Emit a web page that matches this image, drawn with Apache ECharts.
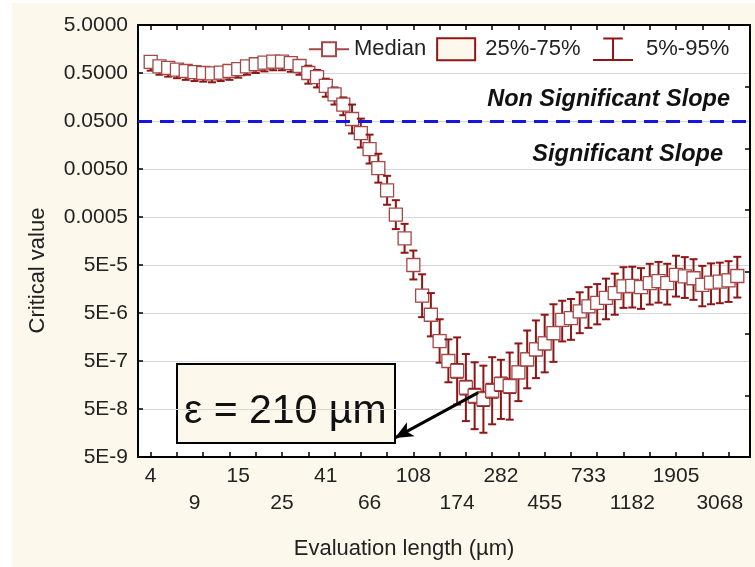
<!DOCTYPE html>
<html><head><meta charset="utf-8">
<script src="https://cdn.jsdelivr.net/npm/echarts@6/dist/echarts.min.js"></script>
<style>html,body{margin:0;padding:0;background:#fff}#c{width:755px;height:567px}</style>
</head><body><div id="c"></div>
<script>
// x axis: one category per evaluation length; labels every 5th category (two staggered rows), ticks every 3rd
const xTickLabels = ['4','9','15','25','41','66','108','174','282','455','733','1182','1905','3068'];
const labelEvery = 5;
const tickEvery = 3;
// y axis decades (5 x 10^n)
const yTickLabels = ['5E-9','5E-8','5E-7','5E-6','5E-5','0.0005','0.0050','0.0500','0.5000','5.0000'];
const yMin = 5e-9, yMax = 5;
const threshold = 0.05;

const median = [0.85,0.69,0.64,0.59,0.55,0.52,0.50,0.49,0.51,0.55,0.60,0.69,0.76,0.82,0.86,0.86,0.80,0.70,
  0.50,0.41,0.27,0.18,0.11,
  0.055,0.028,0.013,0.0052,0.0018,5.6e-4,1.8e-4,5.0e-5,
  1.15e-5,4.6e-6,1.3e-6,5.0e-7,
  3.1e-7,1.4e-7,9.4e-8,8.0e-8,1.2e-7,1.65e-7,1.5e-7,
  2.9e-7,5.4e-7,8.7e-7,1.16e-6,1.9e-6,
  3.6e-6,3.9e-6,5.4e-6,6.9e-6,8.1e-6,1.03e-5,1.3e-5,1.8e-5,1.84e-5,1.73e-5,2.1e-5,2.3e-5,2.1e-5,3.1e-5,2.9e-5,2.65e-5,1.93e-5,2.15e-5,2.25e-5,2.4e-5,2.95e-5];
const p5 = [0.56,0.46,0.42,0.39,0.36,0.34,0.33,0.32,0.34,0.36,0.40,0.46,0.50,0.54,0.57,0.57,0.53,0.46,
  0.30,0.25,0.16,0.11,0.066,
  0.0275,0.014,0.0065,0.0026,9e-4,2.8e-4,9e-5,2.5e-5,
  4.1e-6,1.63e-6,4.6e-7,1.8e-7,
  6.2e-8,2.8e-8,1.9e-8,1.6e-8,2.4e-8,3.1e-8,3.0e-8,
  7.3e-8,1.35e-7,2.2e-7,2.9e-7,4.8e-7,
  1.28e-6,1.38e-6,1.9e-6,2.45e-6,2.9e-6,3.7e-6,4.6e-6,6.4e-6,6.5e-6,6.1e-6,7.5e-6,8.2e-6,7.5e-6,1.1e-5,1.03e-5,9.4e-6,6.9e-6,7.6e-6,8.0e-6,8.5e-6,1.05e-5];
const p25 = [0.74,0.60,0.56,0.51,0.48,0.45,0.435,0.43,0.44,0.48,0.52,0.60,0.66,0.71,0.75,0.75,0.70,0.61,
  0.415,0.34,0.22,0.15,0.091,
  0.043,0.022,0.0103,0.0041,0.00142,4.4e-4,1.42e-4,3.95e-5,
  8.7e-6,3.5e-6,9.9e-7,3.8e-7,
  2.2e-7,9.9e-8,6.7e-8,5.7e-8,8.5e-8,1.17e-7,1.06e-7,
  2.15e-7,4.0e-7,6.4e-7,8.6e-7,1.4e-6,
  2.7e-6,3.0e-6,4.1e-6,5.2e-6,6.2e-6,7.8e-6,9.9e-6,1.37e-5,1.4e-5,1.31e-5,1.6e-5,1.75e-5,1.6e-5,2.35e-5,2.2e-5,2.0e-5,1.47e-5,1.63e-5,1.71e-5,1.82e-5,2.2e-5];
const p75 = [0.98,0.79,0.74,0.68,0.63,0.60,0.575,0.56,0.59,0.63,0.69,0.79,0.87,0.94,0.99,0.99,0.92,0.81,
  0.60,0.49,0.32,0.22,0.13,
  0.069,0.035,0.0164,0.0066,0.00227,7.1e-4,2.27e-4,6.3e-5,
  1.52e-5,6.1e-6,1.72e-6,6.6e-7,
  4.4e-7,1.97e-7,1.33e-7,1.13e-7,1.7e-7,2.3e-7,2.1e-7,
  3.9e-7,7.3e-7,1.17e-6,1.57e-6,2.6e-6,
  4.8e-6,5.1e-6,7.1e-6,9.1e-6,1.07e-5,1.36e-5,1.72e-5,2.4e-5,2.4e-5,2.3e-5,2.8e-5,3.0e-5,2.8e-5,4.1e-5,3.8e-5,3.5e-5,2.5e-5,2.8e-5,3.0e-5,3.2e-5,3.9e-5];
const p95 = [1.07,0.87,0.81,0.74,0.69,0.66,0.63,0.62,0.64,0.69,0.76,0.87,0.96,1.03,1.08,1.08,1.01,0.88,
  0.71,0.58,0.38,0.25,0.155,
  0.11,0.056,0.026,0.0104,0.0036,1.12e-3,3.6e-4,1.0e-4,
  3.2e-5,1.3e-5,3.7e-6,1.41e-6,
  1.55e-6,7.0e-7,4.7e-7,4.0e-7,6.0e-7,5.3e-7,7.5e-7,
  1.16e-6,2.16e-6,3.5e-6,4.6e-6,7.6e-6,
  9.0e-6,9.8e-6,1.35e-5,1.73e-5,2.0e-5,2.6e-5,3.3e-5,4.5e-5,4.6e-5,4.3e-5,5.3e-5,5.8e-5,5.3e-5,7.8e-5,7.3e-5,6.6e-5,4.8e-5,5.4e-5,5.6e-5,6.0e-5,7.4e-5];

// annotation arrow (data coords: category index, value)
const arrowFrom = [37.4, 1.1e-7];
const arrowTo = [27.9, 1.25e-8];

const RED = '#8e1616';
const SQ = '#a44848';
const CREAM = '#fcf8ec';
const FONT = "'Liberation Sans', Arial, sans-serif";

const n = median.length;
const labelValues = xTickLabels.map((_, i) => i * labelEvery);
const rowOneValues = labelValues.filter((_, i) => i % 2 === 0);
const rowTwoValues = labelValues.filter((_, i) => i % 2 === 1);
const tickValues = [];
for (let i = 0; i < n; i += tickEvery) tickValues.push(i);
const xLabelFmt = v => xTickLabels[Math.round(v / labelEvery)];

function whiskerItem(params, api) {
  const k = api.value(0);
  const lo = api.coord([k, api.value(1)]);
  const hi = api.coord([k, api.value(2)]);
  const z = params.dataIndex * 3;
  const hw = 4;
  const st = { stroke: RED, lineWidth: 2 };
  return { type: 'group', children: [
    { type: 'line', z2: z, shape: { x1: lo[0], y1: lo[1], x2: hi[0], y2: hi[1] }, style: st },
    { type: 'line', z2: z, shape: { x1: lo[0] - hw, y1: lo[1], x2: lo[0] + hw, y2: lo[1] }, style: st },
    { type: 'line', z2: z, shape: { x1: hi[0] - hw, y1: hi[1], x2: hi[0] + hw, y2: hi[1] }, style: st }
  ]};
}
function boxItem(params, api) {
  const k = api.value(0);
  const lo = api.coord([k, api.value(1)]);
  const hi = api.coord([k, api.value(2)]);
  const hw = 5.5;
  return { type: 'rect', z2: params.dataIndex * 3 + 1,
    shape: { x: lo[0] - hw, y: hi[1], width: hw * 2, height: lo[1] - hi[1] },
    style: { fill: CREAM, stroke: RED, lineWidth: 1.5 } };
}
function medianItem(params, api) {
  const c = api.coord([api.value(0), api.value(1)]);
  const h = 6.5;
  return { type: 'rect', z2: params.dataIndex * 3 + 2,
    shape: { x: c[0] - h, y: c[1] - h, width: h * 2, height: h * 2 },
    style: { fill: '#ffffff', stroke: SQ, lineWidth: 1.3 } };
}

const chart = echarts.init(document.getElementById('c'), null, { renderer: 'canvas' });
chart.setOption({
  animation: false,
  backgroundColor: CREAM,
  textStyle: { fontFamily: FONT },
  grid: { left: 138, right: 5, top: 25, bottom: 110, show: true, backgroundColor: '#ffffff', borderColor: '#000', borderWidth: 2 },
  legend: {
    left: 308, top: 36, padding: 0, itemGap: 10, itemWidth: 40, itemHeight: 22, selectedMode: false,
    textStyle: { fontSize: 22, color: '#222', fontFamily: FONT },
    data: [
      { name: 'Median', icon: 'path://M0,7H13M27,7H40M13,0H27V14H13Z', itemStyle: { color: '#fff', borderColor: SQ, borderWidth: 2 } },
      { name: '25%-75%', icon: 'path://M0,0H38V22H0Z', itemStyle: { color: CREAM, borderColor: RED, borderWidth: 2 },
        textStyle: { fontSize: 22, color: '#222', padding: [0, 0, 0, 4] } },
      { name: '5%-95%', icon: 'path://M10,0H29M19.5,0V21M0,21H39', itemStyle: { color: 'none', borderColor: RED, borderWidth: 2 },
        textStyle: { fontSize: 22, color: '#222', padding: [0, 0, 0, 8] } }
    ]
  },
  xAxis: [
    { type: 'value', min: -1.45, max: 68.45, position: 'bottom',
      name: 'Evaluation length (µm)', nameLocation: 'middle', nameGap: 81,
      nameTextStyle: { fontSize: 22, color: '#222', padding: [0, 80, 0, 0] },
      axisLine: { show: true, onZero: false, lineStyle: { color: '#000', width: 2 } },
      axisTick: { show: true, inside: true, length: 5, customValues: tickValues, lineStyle: { color: '#000', width: 1.5 } },
      axisLabel: { show: true, customValues: rowOneValues, margin: 6, fontSize: 21, lineHeight: 27, color: '#222',
        showMinLabel: true, showMaxLabel: true, formatter: xLabelFmt },
      splitLine: { show: false } },
    { type: 'value', min: -1.45, max: 68.45, position: 'top',
      axisLine: { show: true, onZero: false, lineStyle: { color: '#000', width: 2 } },
      axisTick: { show: true, inside: true, length: 5, customValues: tickValues, lineStyle: { color: '#000', width: 1.5 } },
      axisLabel: { show: false }, splitLine: { show: false } },
    { type: 'value', min: -1.45, max: 68.45, position: 'bottom', offset: 27,
      axisLine: { show: false, onZero: false }, axisTick: { show: false },
      axisLabel: { show: true, customValues: rowTwoValues, margin: 6, fontSize: 21, lineHeight: 27, color: '#222',
        showMinLabel: true, showMaxLabel: true, formatter: xLabelFmt },
      splitLine: { show: false } }
  ],
  yAxis: [
    { type: 'log', logBase: 10, min: yMin, max: yMax, show: false, axisLine: { onZero: false } },
    { type: 'value', min: 0, max: yTickLabels.length - 1, interval: 1, position: 'left',
      name: 'Critical value', nameLocation: 'middle', nameGap: 89,
      nameTextStyle: { fontSize: 22, color: '#222', padding: [0, 59, 0, 0] },
      axisLine: { show: true, onZero: false, lineStyle: { color: '#000', width: 2 } },
      axisTick: { show: true, inside: true, length: 5, lineStyle: { color: '#000', width: 1.5 } },
      axisLabel: { fontSize: 21, color: '#222', margin: 10, formatter: v => yTickLabels[Math.round(v)] },
      splitLine: { show: true, lineStyle: { color: '#d6d6d6', width: 1 } } },
    { type: 'value', min: 0, max: 7, interval: 1, position: 'right',
      axisLine: { show: true, onZero: false, lineStyle: { color: '#000', width: 2 } },
      axisTick: { show: true, inside: true, length: 5, lineStyle: { color: '#000', width: 1.5 } },
      axisLabel: { show: false }, splitLine: { show: false } }
  ],
  series: [
    { name: '5%-95%', type: 'custom', xAxisIndex: 0, yAxisIndex: 0, renderItem: whiskerItem,
      encode: { x: 0, y: [1, 2] }, itemStyle: { color: RED },
      data: p5.map((v, i) => [i, v, p95[i]]),
      markLine: { silent: true, animation: false, label: { show: false },
        lineStyle: { color: '#000', width: 3, type: 'solid' },
        data: [[ { coord: arrowFrom, symbol: 'none' }, { coord: arrowTo, symbol: 'arrow', symbolSize: [12, 18] } ]] } },
    { name: '25%-75%', type: 'custom', xAxisIndex: 0, yAxisIndex: 0, renderItem: boxItem,
      encode: { x: 0, y: [1, 2] }, itemStyle: { color: CREAM },
      data: p25.map((v, i) => [i, v, p75[i]]) },
    { name: 'Median', type: 'custom', xAxisIndex: 0, yAxisIndex: 0, renderItem: medianItem,
      encode: { x: 0, y: 1 }, itemStyle: { color: '#fff' },
      data: median.map((v, i) => [i, v]),
      markLine: { silent: true, animation: false, symbol: ['none', 'none'], label: { show: false },
        lineStyle: { color: '#1515e0', width: 3, type: [14, 8] },
        data: [{ yAxis: threshold }] } }
  ],
  graphic: [
    { type: 'rect', left: 0, top: 0, shape: { width: 12, height: 567 }, style: { fill: '#fff' }, silent: true },
    { type: 'rect', left: 0, top: 0, shape: { width: 755, height: 3 }, style: { fill: '#fff' }, silent: true },
    { type: 'text', x: 730, y: 99.5, z: 50, silent: true,
      style: { text: 'Non Significant Slope', fill: '#111', font: "italic bold 23.5px " + FONT, align: 'right', verticalAlign: 'middle', textAlign: 'right', textVerticalAlign: 'middle' } },
    { type: 'text', x: 723, y: 155, z: 50, silent: true,
      style: { text: 'Significant Slope', fill: '#111', font: "italic bold 23.5px " + FONT, align: 'right', verticalAlign: 'middle', textAlign: 'right', textVerticalAlign: 'middle' } },
    { type: 'group', z: 50, silent: true, children: [
      { type: 'rect', shape: { x: 177, y: 364, width: 218, height: 79 }, style: { fill: CREAM, stroke: '#000', lineWidth: 2 } },
      { type: 'text', x: 184, y: 412, style: { text: 'ε = 210 µm', fill: '#111', font: "41px " + FONT, verticalAlign: 'middle', textVerticalAlign: 'middle' } }
    ]}
  ]
});
</script>
</body></html>
